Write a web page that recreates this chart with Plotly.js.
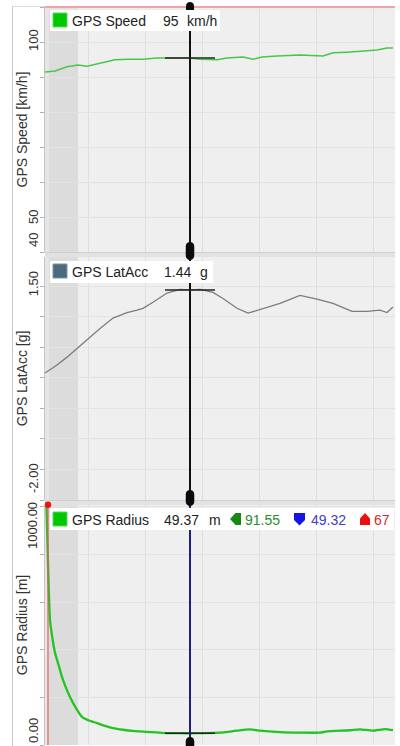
<!DOCTYPE html>
<html><head><meta charset="utf-8">
<script src="https://cdn.plot.ly/plotly-3.0.1.min.js"></script>
<style>html,body{margin:0;padding:0;background:#fff;}#chart{width:400px;height:746px;}</style>
</head><body><div id="chart"></div>
<script>
// ---------- data ----------
const speedDist = [0,10,22,33,42,55,70,83,98,112,122,145,155,172,182,198,208,217,232,255,278,288,302,322,332,342,348];
const speedKmh  = [91.4,91.7,92.9,93.4,93.1,94.0,94.9,95.1,95.1,95.4,95.4,95.4,95.1,94.9,95.4,95.7,95.1,95.7,96.0,96.3,96.0,96.9,97.1,97.4,97.7,98.3,98.3];

const latDist = [0,12,22,35,45,55,68,82,92,98,108,122,135,145,155,168,178,192,203,215,225,235,255,272,288,307,322,335,342,348];
const latAccG = [0.08,0.21,0.34,0.53,0.67,0.81,0.98,1.07,1.11,1.14,1.24,1.39,1.45,1.44,1.45,1.40,1.30,1.14,1.06,1.12,1.17,1.22,1.35,1.29,1.22,1.09,1.09,1.11,1.07,1.16];

const radDist = [1.5,3,5,7,10,14,17,21,25,31,37,44,52,60,68,78,88,105,122,135,145,155,175,188,205,215,235,255,275,282,305,315,328,340,348];
const radiusM = [1000,760,525,460,387,330,286,240,202,155,118,103,92,80,71,64,59,54,50,49.6,49.37,50,52,58,66,60,54,52,52,57,62,66,60,67,62];

const cursorDist = 145;
const cursorValues = [95.4, 1.44, 49.37];
const markerDist = 3;
const shadeDist = [4, 33];
const gridDist = [43,100,157,214,271,328];

const speedTickVals = [100, 50, 40], speedTickText = ["100","50","40"];
const latTickVals = [1.5, -2], latTickText = ["1.50","-2.00"];
const radTickVals = [1000, 0], radTickText = ["1000.00","0.00"];

const legSpeed = ["GPS Speed", "95", "km/h"];
const legLat = ["GPS LatAcc", "1.44", "g"];
const legRad = ["GPS Radius", "49.37", "m"];
const radStats = ["91.55", "49.32", "67"];

// ---------- layout helpers ----------
const W = 400, H = 746, M = {l:45, r:5, t:7, b:1};
const PW = W - M.l - M.r, PH = H - M.t - M.b;
const px = x => (x - M.l) / PW;
const py = y => (H - M.b - y) / PH;
const dx = d => M.l + d; // x range [0, PW]

const dom1 = [py(252), py(7)], dom2 = [py(500), py(257)], dom3 = [0, py(505)];

function rectP(x0,y0,x1,y1,fill,line){
  return {type:'rect', xref:'paper', yref:'paper', x0:px(x0), x1:px(x1), y0:py(y1), y1:py(y0),
          fillcolor:fill, line:{width: line?1:0, color: line||fill}, layer:'above'};
}
function pathP(pts, fill){
  let s = pts.map((p,i)=>(i?'L':'M')+px(p[0])+','+py(p[1])).join(' ')+' Z';
  return {type:'path', xref:'paper', yref:'paper', path:s, fillcolor:fill, line:{width:0}, layer:'above'};
}
function pill(cx, y0, y1, w){
  const r = w/2;
  const P = (x,y)=>px(x)+','+py(y);
  const s = 'M'+P(cx-r,y0+r)+' C'+P(cx-r,y0-r*0.3)+' '+P(cx+r,y0-r*0.3)+' '+P(cx+r,y0+r)+
            ' L'+P(cx+r,y1-r)+' C'+P(cx+r,y1+r*0.3)+' '+P(cx-r,y1+r*0.3)+' '+P(cx-r,y1-r)+' Z';
  return {type:'path', xref:'paper', yref:'paper', path:s, fillcolor:'#0a0a0a', line:{width:0}, layer:'above'};
}
function lineP(x0,y0,x1,y1,color,w){
  return {type:'line', xref:'paper', yref:'paper', x0:px(x0), x1:px(x1), y0:py(y0), y1:py(y1), line:{color:color, width:w}, layer:'above'};
}

// ---------- traces ----------
const traces = [
  {x:speedDist, y:speedKmh, xaxis:'x', yaxis:'y', mode:'lines', line:{color:'#46c846', width:1.5}, hoverinfo:'skip'},
  {x:latDist, y:latAccG, xaxis:'x', yaxis:'y2', mode:'lines', line:{color:'#7c7c7c', width:1.3}, hoverinfo:'skip'},
  {x:radDist, y:radiusM, xaxis:'x', yaxis:'y3', mode:'lines', line:{color:'#22c422', width:2.3, shape:'spline', smoothing:0.6}, hoverinfo:'skip'}
];

// ---------- shapes ----------
const shapes = [];
['y','y2','y3'].forEach(a=>{
  shapes.push({type:'rect', xref:'x', yref:a+' domain', x0:shadeDist[0], x1:shadeDist[1], y0:0, y1:1, fillcolor:'#dcdcdc', line:{width:0}, layer:'below'});
  shapes.push({type:'rect', xref:'x', yref:a+' domain', x0:0, x1:shadeDist[0], y0:0, y1:1, fillcolor:'#e6e6e6', line:{width:0}, layer:'below'});
});
// left column
shapes.push(lineP(12.5, 6, 12.5, 746, '#c6c6c6', 1));
shapes.push(lineP(12.5, 6.5, 45, 6.5, '#dddddd', 1));
// separators
shapes.push(rectP(45, 252, 395, 257, '#e2e2e2'));
shapes.push(lineP(45, 252.5, 395, 252.5, '#cfcfcf', 1));
shapes.push(rectP(45, 500, 395, 505, '#e2e2e2'));
shapes.push(lineP(45, 500.5, 395, 500.5, '#cfcfcf', 1));
// top pink line
shapes.push(lineP(45, 7, 395, 7, '#f3a2ab', 2));
shapes.push(lineP(45, 9, 395, 9, '#dff2df', 1));
// red marker line in radius panel
shapes.push({type:'line', xref:'x', yref:'y3 domain', x0:markerDist, x1:markerDist, y0:0, y1:1, line:{color:'#e85a5a', width:1.2}, layer:'above'});
shapes.push({type:'circle', xref:'paper', yref:'paper', x0:px(dx(markerDist)-3.2), x1:px(dx(markerDist)+3.2), y0:py(508), y1:py(501.6), fillcolor:'#ee1111', line:{width:0}, layer:'above'});
// cursor
shapes.push({type:'line', xref:'x', yref:'y domain', x0:cursorDist, x1:cursorDist, y0:0, y1:1, line:{color:'#111111', width:2}, layer:'above'});
shapes.push({type:'line', xref:'x', yref:'y2 domain', x0:cursorDist, x1:cursorDist, y0:0, y1:1, line:{color:'#111111', width:2}, layer:'above'});
shapes.push({type:'line', xref:'x', yref:'y3 domain', x0:cursorDist, x1:cursorDist, y0:0, y1:1, line:{color:'#1e1e7e', width:2}, layer:'above'});
['y','y2','y3'].forEach((a,i)=>{
  shapes.push({type:'line', xref:'x', yref:a, x0:cursorDist-25, x1:cursorDist+25, y0:cursorValues[i], y1:cursorValues[i], line:{color:'#222222', width:1.5}, layer:'above'});
});
const cx = dx(cursorDist);
shapes.push(pill(cx, 2, 13, 8));
shapes.push(pill(cx, 242, 260, 8.5));
shapes.push(pill(cx, 490, 506, 8.5));
shapes.push(pill(cx, 737, 752, 8.5));
// legend boxes
shapes.push(rectP(50, 10, 220, 31, '#ffffff'));
shapes.push(rectP(53, 13, 67, 27, '#00c800', '#5ad85a'));
shapes.push(rectP(50, 261, 213, 283, '#ffffff'));
shapes.push(rectP(53, 264, 67, 278, '#4b6a7e', '#7a93a3'));
shapes.push(rectP(50, 508, 394, 530, '#ffffff'));
shapes.push(rectP(53, 512, 67, 526, '#00c800', '#5ad85a'));
shapes.push(pathP([[230,519],[235.5,513],[241,513],[241,525],[235.5,525]], '#148a14'));
shapes.push(pathP([[294,513],[305,513],[305,520],[299.5,525.5],[294,520]], '#1414e6'));
shapes.push(pathP([[360,525],[370,525],[370,518.5],[365,513],[360,518.5]], '#ea1010'));

// ---------- annotations ----------
const ann = [];
const F = 'Liberation Sans, Arial, sans-serif';
function txt(x, y, s, color, size){
  ann.push({xref:'paper', yref:'paper', x:px(x), y:py(y), text:s, showarrow:false, xanchor:'left', yanchor:'middle',
            font:{family:F, size:size||14, color:color||'#222'}});
}
txt(70, 20.5, legSpeed[0]); txt(161, 20.5, legSpeed[1]); txt(185, 20.5, legSpeed[2]);
txt(70, 272, legLat[0]); txt(162, 272, legLat[1]); txt(198, 272, legLat[2]);
txt(70, 519.5, legRad[0]); txt(162, 519.5, legRad[1]); txt(207, 519.5, legRad[2]);
txt(243, 519.5, radStats[0], '#2a8c2a'); txt(309, 519.5, radStats[1], '#4040c8'); txt(372, 519.5, radStats[2], '#e02828');

function tick(axis, vals, texts, shifts){
  vals.forEach((v,i)=>{
    ann.push({xref:'paper', yref:axis, x:px(33), y:v, text:texts[i], showarrow:false, textangle:-90,
              xanchor:'center', yanchor:'middle', yshift:shifts[i], font:{family:F, size:13, color:'#333'}});
  });
}
tick('y', speedTickVals, speedTickText, [2, 0, 12]);
tick('y2', latTickVals, latTickText, [2, 22]);
tick('y3', radTickVals, radTickText, [-19, 14]);

// ---------- layout ----------
const yBase = {showline:true, linecolor:'#c4c4c4', linewidth:1, ticks:'outside', ticklen:4, tickcolor:'#b0b0b0',
               showticklabels:false, zeroline:false, gridcolor:'#e3e3e3', gridwidth:1, anchor:'x', fixedrange:true};
const titleFont = {family:F, size:14, color:'#333'};
const layout = {
  width:W, height:H, margin:M, paper_bgcolor:'#ffffff', plot_bgcolor:'#efefef', showlegend:false,
  xaxis:{range:[0,PW], tickvals:gridDist, showticklabels:false, ticks:'', showgrid:true, gridcolor:'#dedede',
         zeroline:false, showline:false, anchor:'y3', fixedrange:true},
  yaxis: Object.assign({}, yBase, {domain:dom1, range:[40,110], tick0:40, dtick:10,
         title:{text:'GPS Speed [km/h]', font:titleFont, standoff:9}}),
  yaxis2: Object.assign({}, yBase, {domain:dom2, range:[-2,1.98], tick0:-2, dtick:0.5,
         title:{text:'GPS LatAcc [g]', font:titleFont, standoff:9}}),
  yaxis3: Object.assign({}, yBase, {domain:dom3, range:[0,1008], tick0:0, dtick:200,
         title:{text:'GPS Radius [m]', font:titleFont, standoff:9}}),
  shapes:shapes, annotations:ann, hovermode:false
};
Plotly.newPlot('chart', traces, layout, {staticPlot:true, displayModeBar:false});
</script></body></html>
